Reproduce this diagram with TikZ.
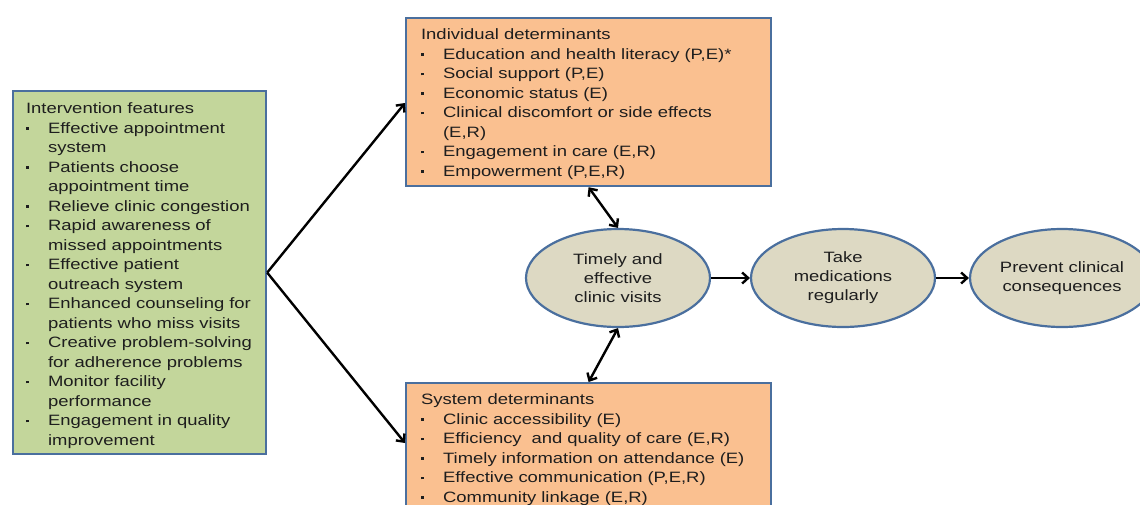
\documentclass[tikz,border=0pt]{standalone}
\usepackage{fontspec}
\setmainfont{Liberation Sans}[FakeStretch=1.23]
\usetikzlibrary{shapes.geometric,arrows.meta}
\definecolor{boxgreen}{HTML}{C3D69B}
\definecolor{boxorange}{HTML}{FAC090}
\definecolor{edgeblue}{HTML}{4A6F9E}
\definecolor{ellfill}{HTML}{DDD9C3}
\definecolor{txt}{HTML}{1E1E1E}
\newcommand\bitem{\makebox[22pt][l]{\rule[3.5pt]{2.6pt}{2.6pt}}}
\newcommand\bcont{\hspace*{22pt}}
\begin{document}
\begin{tikzpicture}[x=1pt,y=-1pt,
  box/.style={rectangle, draw=edgeblue, line width=2.2pt, anchor=north west,
    align=left, inner xsep=13pt, text=txt,
    font=\fontsize{15}{19.5}\selectfont},
  oval/.style={ellipse, draw=edgeblue, line width=2.2pt, fill=ellfill,
    minimum width=184pt, minimum height=98pt, inner sep=0pt, align=center,
    text=txt, font=\fontsize{15}{19}\selectfont},
  conn/.style={line width=2.4pt, -{Straight Barb[length=6pt,width=11pt]}},
  dconn/.style={line width=2.4pt,
    {Straight Barb[length=6pt,width=11pt]}-{Straight Barb[length=6pt,width=11pt]}}]
\useasboundingbox (0,0) rectangle (1140,504);
\clip (0,0) rectangle (1140,504);
\node[box, fill=boxgreen, text width=227pt, minimum height=363pt] (feat) at (12,90)
 {\rule{0pt}{17pt}Intervention features\\
  \bitem Effective appointment\\
  \bcont system\\
  \bitem Patients choose\\
  \bcont appointment time\\
  \bitem Relieve clinic congestion\\
  \bitem Rapid awareness of\\
  \bcont missed appointments\\
  \bitem Effective patient\\
  \bcont outreach system\\
  \bitem Enhanced counseling for\\
  \bcont patients who miss visits\\
  \bitem Creative problem-solving\\
  \bcont for adherence problems\\
  \bitem Monitor facility\\
  \bcont performance\\
  \bitem Engagement in quality\\
  \bcont improvement};
\node[box, fill=boxorange, inner xsep=15pt, text width=335pt, minimum height=168pt] (ind) at (405,17)
 {\rule{0pt}{15pt}Individual determinants\\
  \bitem Education and health literacy (P,E)*\\
  \bitem Social support (P,E)\\
  \bitem Economic status (E)\\
  \bitem Clinical discomfort or side effects\\
  \bcont (E,R)\\
  \bitem Engagement in care (E,R)\\
  \bitem Empowerment (P,E,R)};
\node[box, fill=boxorange, inner xsep=15pt, inner ysep=11pt, text width=335pt] (sys) at (405,382)
 {System determinants\\
  \bitem Clinic accessibility (E)\\
  \bitem Efficiency\ \ and quality of care (E,R)\\
  \bitem Timely information on attendance (E)\\
  \bitem Effective communication (P,E,R)\\
  \bitem Community linkage (E,R)};
\node[oval] (visits) at (618,278) {Timely and\\effective\\clinic visits};
\node[oval] (meds) at (843,278) {Take\\medications\\regularly};
\node[oval] (prev) at (1062,278) {Prevent clinical\\consequences};
\coordinate (indin) at (405,103);
\coordinate (sysin) at (405,443);
\draw[conn] (feat.east) -- (indin);
\draw[conn] (feat.east) -- (sysin);
\draw[dconn] (ind.south) -- (visits.north);
\draw[dconn] (visits.south) -- (sys.north);
\draw[conn] (visits.east) -- (meds.west);
\draw[conn] (meds.east) -- (prev.west);
\end{tikzpicture}
\end{document}
